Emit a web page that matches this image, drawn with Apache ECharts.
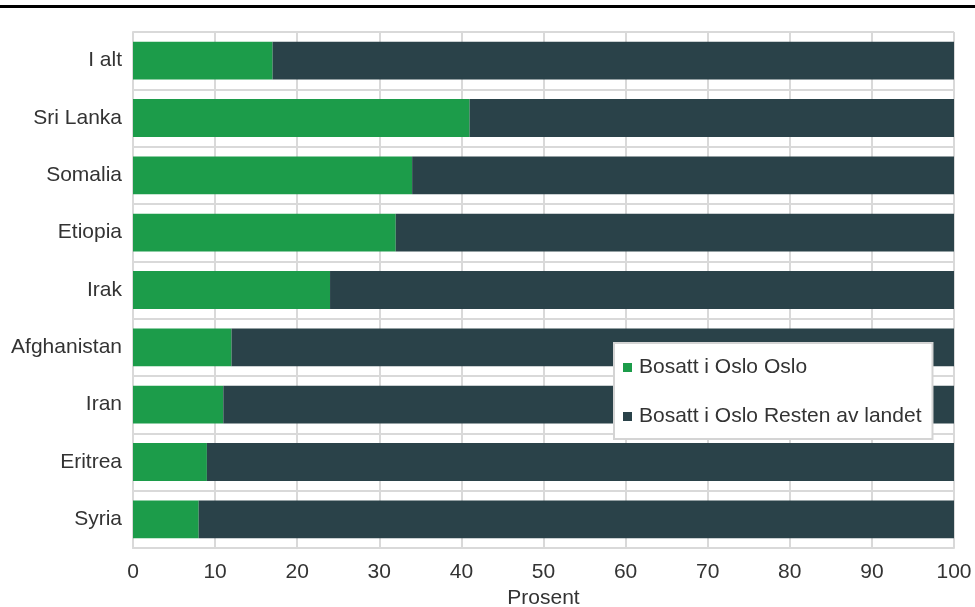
<!DOCTYPE html>
<html>
<head>
<meta charset="utf-8">
<script src="https://cdn.jsdelivr.net/npm/echarts@6/dist/echarts.min.js"></script>
<style>html,body{margin:0;padding:0;background:#fff;}#c{width:975px;height:607px;}</style>
</head>
<body>
<div id="c"></div>
<script>
const categories = ['I alt', 'Sri Lanka', 'Somalia', 'Etiopia', 'Irak', 'Afghanistan', 'Iran', 'Eritrea', 'Syria'];
const osloValues = [17, 41, 34, 32, 24, 12, 11, 9, 8];
const restValues = [83, 59, 66, 68, 76, 88, 89, 91, 92];
const seriesNames = ['Bosatt i Oslo Oslo', 'Bosatt i Oslo Resten av landet'];
const xTicks = { min: 0, max: 100, interval: 10 };
const axisName = 'Prosent';

const font = 'Liberation Sans, Arial, sans-serif';
const chart = echarts.init(document.getElementById('c'), null, { renderer: 'canvas' });
chart.setOption({
  backgroundColor: '#fff',
  animation: false,
  textStyle: { fontFamily: font },
  graphic: [{ type: 'rect', left: 0, top: 5, shape: { width: 975, height: 3 }, style: { fill: '#000' } }],
  grid: { left: 133, right: 21, top: 32, bottom: 59, containLabel: false, outerBoundsMode: 'none' },
  legend: {
    orient: 'vertical', left: 614, top: 343,
    padding: [14, 11, 12, 9], itemGap: 28, itemWidth: 9, itemHeight: 9,
    backgroundColor: '#fff', borderColor: '#d4d4d4', borderWidth: 2,
    icon: 'rect',
    textStyle: { fontSize: 21, lineHeight: 21, color: '#333', fontFamily: font, padding: [0, 0, 0, 2] },
    data: seriesNames
  },
  xAxis: {
    type: 'value', min: xTicks.min, max: xTicks.max, interval: xTicks.interval,
    name: axisName, nameLocation: 'middle', nameGap: 36,
    nameTextStyle: { fontSize: 21, color: '#333', fontFamily: font },
    axisLine: { show: true, lineStyle: { color: '#d9d9d9', width: 2 } },
    axisTick: { show: false },
    axisLabel: { fontSize: 21, color: '#333', margin: 14, fontFamily: font },
    splitLine: { show: true, lineStyle: { color: '#d9d9d9', width: 2 } }
  },
  yAxis: {
    type: 'category', data: categories, inverse: true,
    axisLine: { show: true, lineStyle: { color: '#d9d9d9', width: 2 } },
    axisTick: { show: false },
    axisLabel: { fontSize: 21, color: '#333', margin: 11, fontFamily: font },
    splitLine: { show: true, lineStyle: { color: '#d9d9d9', width: 2 } }
  },
  series: [
    { name: seriesNames[0], type: 'bar', stack: 't', data: osloValues, barWidth: '66%', itemStyle: { color: '#1c9c4a' } },
    { name: seriesNames[1], type: 'bar', stack: 't', data: restValues, barWidth: '66%', itemStyle: { color: '#2a4249' } }
  ]
});
</script>
</body>
</html>
